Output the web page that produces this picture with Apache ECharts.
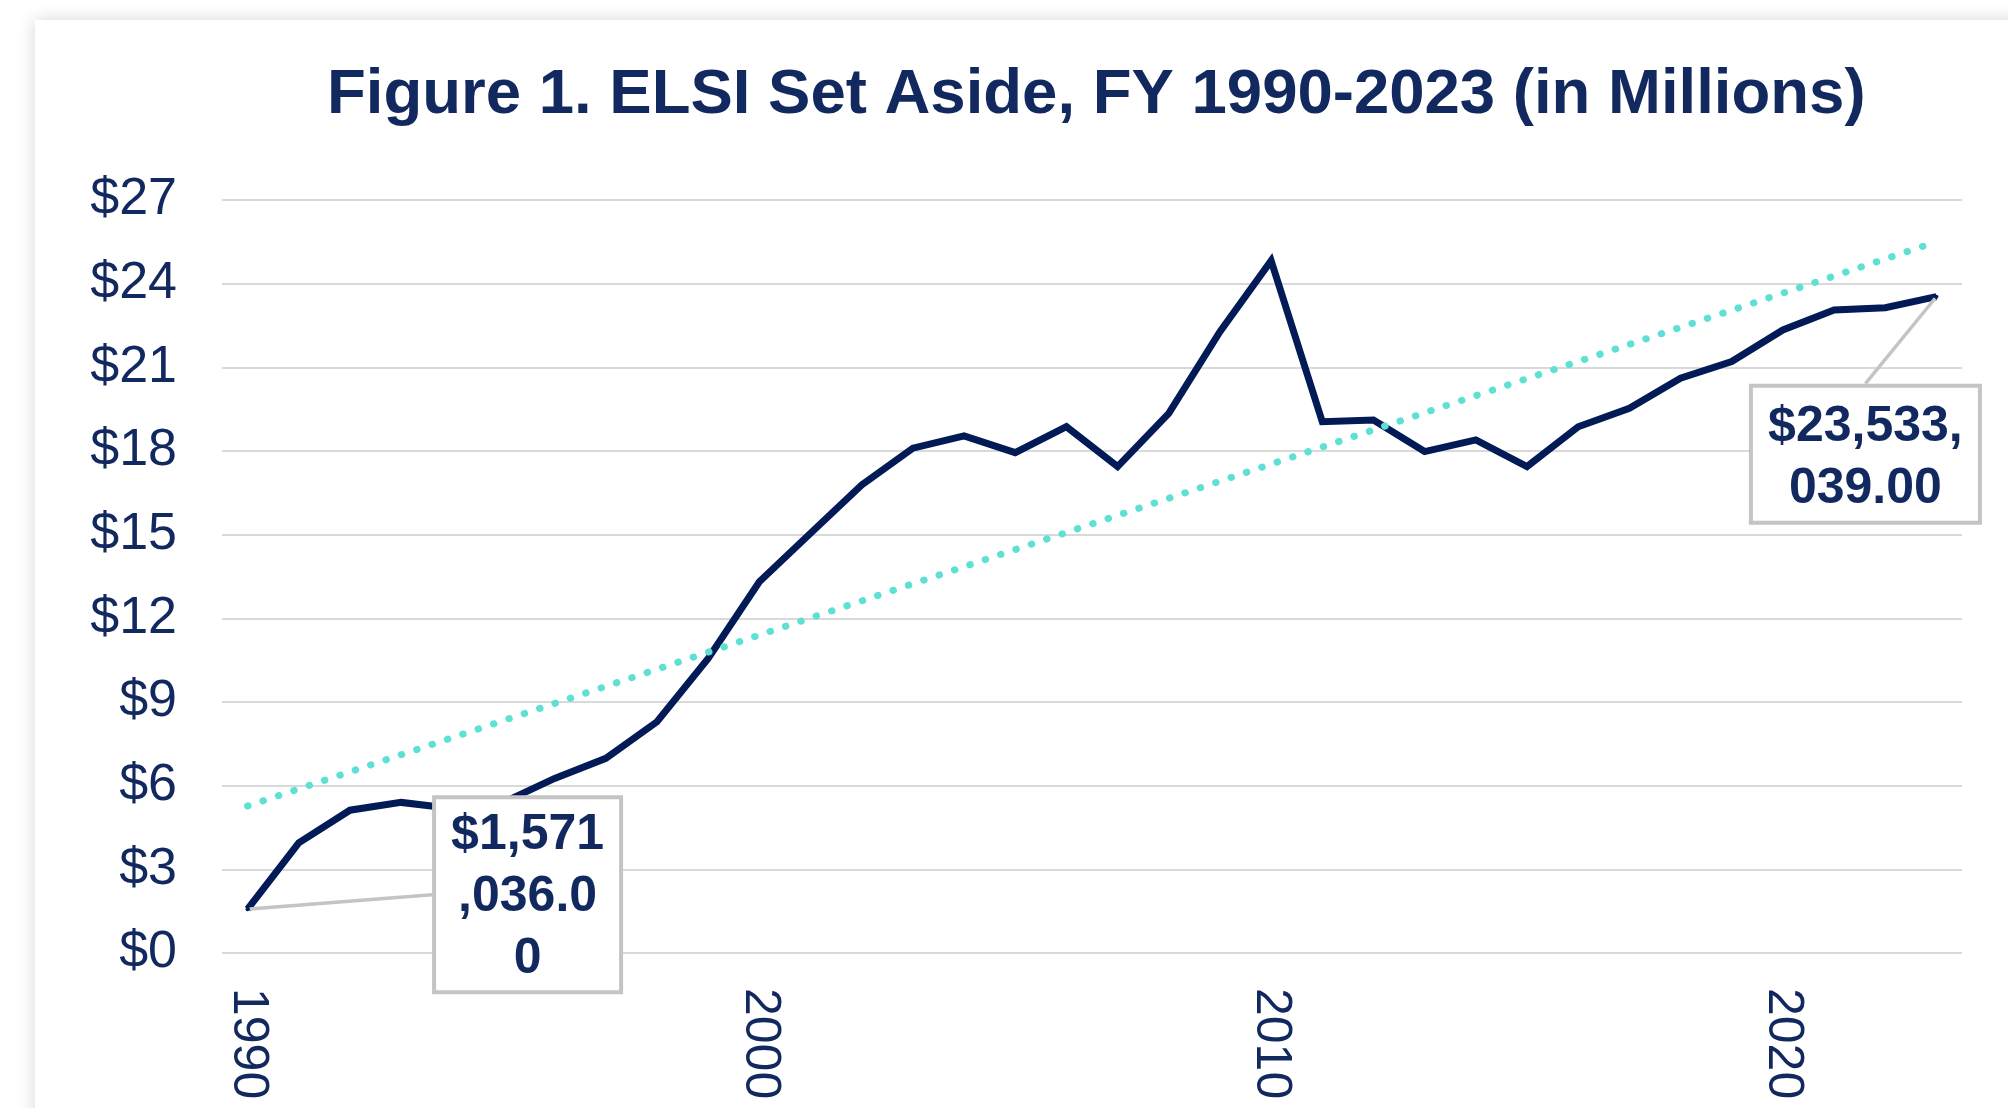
<!DOCTYPE html>
<html>
<head>
<meta charset="utf-8">
<script src="https://cdn.jsdelivr.net/npm/echarts@6/dist/echarts.min.js"></script>
<style>
  html, body { margin: 0; padding: 0; background: #ffffff; overflow: hidden; }
  #panel { position: absolute; left: 35px; top: 20px; width: 2100px; height: 1200px; background: #ffffff; box-shadow: 0 0 16px rgba(0,0,0,0.16); }
  #chart { position: absolute; left: 0; top: 0; width: 2008px; height: 1108px; }
</style>
</head>
<body>
<div id="panel"></div>
<div id="chart"></div>
<script>
// ---- Data (values in millions of dollars) ----
const years = ['1990','1991','1992','1993','1994','1995','1996','1997','1998','1999',
               '2000','2001','2002','2003','2004','2005','2006','2007','2008','2009',
               '2010','2011','2012','2013','2014','2015','2016','2017','2018','2019',
               '2020','2021','2022','2023'];
const elsiSetAside = [1.571036, 3.95, 5.12, 5.40, 5.18, 5.40, 6.26, 6.98, 8.29, 10.56,
                      13.31, 15.05, 16.78, 18.10, 18.54, 17.94, 18.87, 17.44, 19.35, 22.28,
                      24.82, 19.05, 19.11, 17.98, 18.40, 17.44, 18.87, 19.53, 20.61, 21.21,
                      22.34, 23.06, 23.14, 23.533039];
// Linear trendline end values (first year, last year)
const trendEnds = [5.27, 25.5];
// Data callouts: which points are labelled, and how many characters per wrapped line
const calloutIndex = [0, 33];
const calloutChunk = [6, 8];

const NAVY_TEXT = '#12295F';
const NAVY_LINE = '#021B56';
const TEAL = '#5EE0D5';
const FONT = '"Liberation Sans", Arial, sans-serif';

function dollarText(v, chunk) {
  const s = '$' + Math.round(v * 1e6).toLocaleString('en-US') + '.00';
  const parts = [];
  for (let i = 0; i < s.length; i += chunk) parts.push(s.slice(i, i + chunk));
  return parts.join('\n');
}

const trendData = years.map((y, i) =>
  i === 0 ? trendEnds[0] : (i === years.length - 1 ? trendEnds[1] : null));

const calloutStyles = [
  { position: [282, -108], width: 171, padding: [5, 6, 0, 6] },
  { position: [-69, 93], width: 213, padding: [9, 6, 0, 6] }
];

const calloutData = calloutIndex.map((idx, k) => ({
  value: [years[idx], elsiSetAside[idx]],
  label: {
    position: calloutStyles[k].position,
    width: calloutStyles[k].width,
    padding: calloutStyles[k].padding,
    formatter: () => dollarText(elsiSetAside[idx], calloutChunk[k])
  }
}));

const chart = echarts.init(document.getElementById('chart'), null, { renderer: 'canvas' });
chart.setOption({
  animation: false,
  backgroundColor: 'transparent',
  title: {
    text: 'Figure 1. ELSI Set Aside, FY 1990-2023 (in Millions)',
    left: 327,
    top: 63,
    padding: 0,
    textStyle: { fontSize: 63.5, fontWeight: 'bold', color: NAVY_TEXT, fontFamily: FONT, lineHeight: 64 }
  },
  grid: { left: 222, right: 46, top: 200, bottom: 155, containLabel: false },
  xAxis: {
    type: 'category',
    data: years,
    boundaryGap: true,
    axisLine: { show: false },
    axisTick: { show: false },
    axisLabel: { interval: 9, rotate: -90, fontSize: 50, color: NAVY_TEXT, fontFamily: FONT, margin: 35 },
    splitLine: { show: false }
  },
  yAxis: {
    type: 'value',
    min: 0,
    max: 27,
    interval: 3,
    axisLine: { show: false },
    axisTick: { show: false },
    axisLabel: { formatter: v => '$' + v, fontSize: 52, color: NAVY_TEXT, fontFamily: FONT, margin: 45 },
    splitLine: { lineStyle: { color: '#D9D9D9', width: 2 } }
  },
  series: [
    {
      name: 'ELSI Set Aside',
      type: 'line',
      data: elsiSetAside,
      symbol: 'none',
      showSymbol: false,
      z: 2,
      lineStyle: { color: NAVY_LINE, width: 7, join: 'miter' }
    },
    {
      name: 'Linear trend',
      type: 'line',
      data: trendData,
      connectNulls: true,
      symbol: 'none',
      showSymbol: false,
      z: 3,
      lineStyle: { color: TEAL, width: 7, type: [0.5, 15.7], cap: 'round' }
    },
    {
      name: 'Callouts',
      type: 'scatter',
      data: calloutData,
      symbol: 'circle',
      symbolSize: 4,
      z: 5,
      itemStyle: { color: NAVY_LINE, opacity: 1 },
      label: {
        show: true,
        opacity: 1,
        align: 'center',
        verticalAlign: 'top',
        fontSize: 50,
        fontWeight: 'bold',
        fontFamily: FONT,
        color: NAVY_TEXT,
        lineHeight: 62,
        backgroundColor: '#ffffff',
        borderColor: '#C4C4C4',
        borderWidth: 4
      },
      labelLine: { show: true, lineStyle: { color: '#C4C4C4', width: 3.5, opacity: 1 } }
    }
  ]
});
</script>
</body>
</html>
